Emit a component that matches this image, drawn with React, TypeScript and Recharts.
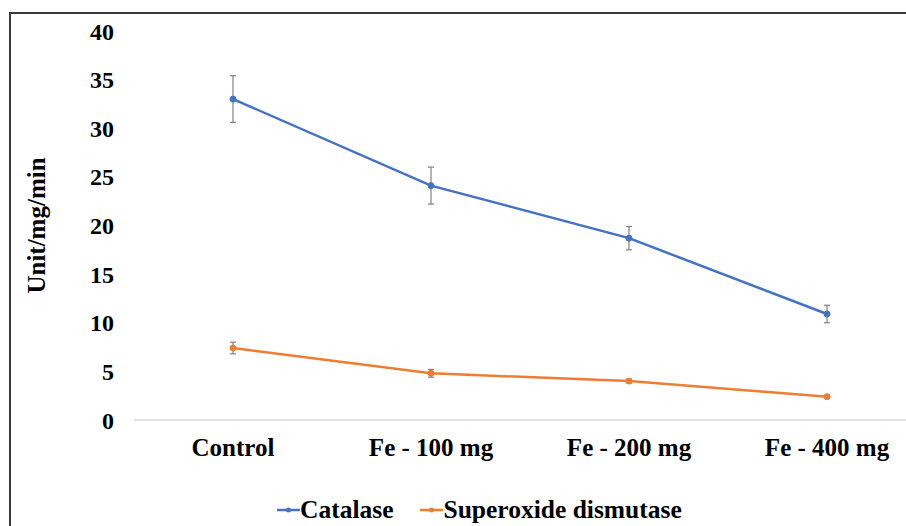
import React from "react";
import { CartesianGrid, ErrorBar, Line, LineChart, XAxis, YAxis } from "recharts";

const groups = ["Control", "Fe - 100 mg", "Fe - 200 mg", "Fe - 400 mg"];
const catalase = [33.0, 24.1, 18.7, 10.9];
const catalaseErr = [2.4, 1.9, 1.2, 0.9];
const sod = [7.4, 4.8, 4.0, 2.4];
const sodErr = [0.6, 0.4, 0.2, 0.15];
const yTicks = [0, 5, 10, 15, 20, 25, 30, 35, 40];

const SERIES = [
  { key: "catalase", errKey: "catalaseErr", name: "Catalase", color: "#4472C4" },
  { key: "sod", errKey: "sodErr", name: "Superoxide dismutase", color: "#ED7D31" },
];

const data = groups.map((g, i) => ({
  group: g,
  catalase: catalase[i],
  catalaseErr: catalaseErr[i],
  sod: sod[i],
  sodErr: sodErr[i],
}));

const FONT = '"Liberation Serif", "Times New Roman", serif';
const Y_TICK = { fill: "#000", fontSize: 24, fontWeight: 700, fontFamily: FONT } as const;
const X_TICK = { fill: "#000", fontSize: 25, fontWeight: 700, fontFamily: FONT } as const;
const CHART_MARGIN = { top: 31, right: 14, bottom: 66, left: 0 } as const;

function LegendRow() {
  return (
    <div
      style={{
        position: "absolute",
        left: 277,
        top: 495,
        display: "flex",
        alignItems: "center",
        fontFamily: FONT,
        fontWeight: 700,
        fontSize: 25.5,
        color: "#000",
        whiteSpace: "nowrap",
      }}
    >
      {SERIES.map((s, i) => (
        <div
          key={s.key}
          style={{ display: "flex", alignItems: "center", marginLeft: i ? 27 : 0 }}
        >
          <svg width={23} height={10} style={{ marginRight: 0 }}>
            <line x1={0} y1={5} x2={23} y2={5} stroke={s.color} strokeWidth={2.5} />
            <circle cx={11.5} cy={5} r={2.5} fill={s.color} />
          </svg>
          <span>{s.name}</span>
        </div>
      ))}
    </div>
  );
}

export default function App() {
  return (
    <div
      style={{
        position: "absolute",
        left: 0,
        top: 0,
        width: 906,
        height: 526,
        overflow: "hidden",
        background: "#fff",
      }}
    >
      <div
        style={{
          position: "absolute",
          left: 9,
          top: 12,
          width: 1000,
          height: 700,
          border: "2px solid #3a3a3a",
        }}
      />
      <div style={{ position: "absolute", left: 0, top: 0 }}>
        <LineChart width={940} height={526} data={data} margin={CHART_MARGIN}>
          <CartesianGrid horizontal={false} vertical={false} />
          <XAxis
            dataKey="group"
            scale="band"
            height={40}
            tick={X_TICK}
            tickLine={false}
            tickMargin={12}
            axisLine={{ stroke: "#d9d9d9", strokeWidth: 1.5 }}
            interval={0}
          />
          <YAxis
            width={134}
            domain={[0, 40]}
            ticks={yTicks}
            tick={Y_TICK}
            tickLine={false}
            axisLine={false}
            tickMargin={14}
            label={{
              value: "Unit/mg/min",
              angle: -90,
              position: "insideLeft",
              offset: 36,
              style: {
                textAnchor: "middle",
                fill: "#000",
                fontSize: 25,
                fontWeight: 700,
                fontFamily: FONT,
              },
            }}
          />
          {SERIES.map((s) => (
            <Line
              key={s.key}
              type="linear"
              dataKey={s.key}
              name={s.name}
              stroke={s.color}
              strokeWidth={2.5}
              dot={{ r: 3, fill: s.color, stroke: s.color, strokeWidth: 1 }}
              activeDot={false}
              isAnimationActive={false}
            >
              <ErrorBar
                dataKey={s.errKey}
                direction="y"
                width={3}
                stroke="#808080"
                strokeWidth={1.2}
                isAnimationActive={false}
              />
            </Line>
          ))}
        </LineChart>
      </div>
      <LegendRow />
    </div>
  );
}
